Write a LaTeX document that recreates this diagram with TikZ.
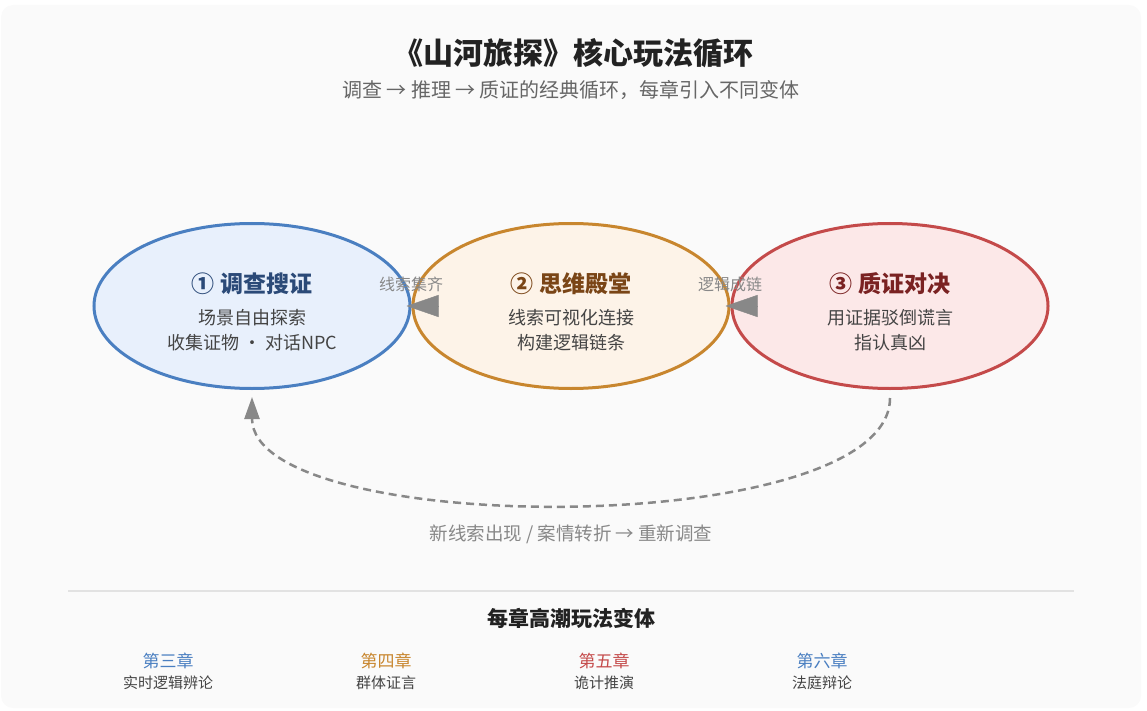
\documentclass[tikz,border=0pt]{standalone}
\usepackage{fontspec}
\setmainfont{Noto Sans CJK SC}
\usetikzlibrary{shapes.geometric,arrows.meta}

\definecolor{pagebg}{HTML}{FAFAFA}
\definecolor{titletext}{HTML}{222222}
\definecolor{subtext}{HTML}{666666}
\definecolor{bodytext}{HTML}{444444}
\definecolor{hint}{HTML}{888888}
\definecolor{rule}{HTML}{E2E2E2}
\definecolor{invfill}{HTML}{E8F0FC}
\definecolor{invline}{HTML}{4A7FC1}
\definecolor{invtext}{HTML}{2B4A78}
\definecolor{mindfill}{HTML}{FDF3E8}
\definecolor{mindline}{HTML}{C8862E}
\definecolor{mindtext}{HTML}{7A4516}
\definecolor{trialfill}{HTML}{FCE8E8}
\definecolor{trialline}{HTML}{C44A4A}
\definecolor{trialtext}{HTML}{7A2222}

\begin{document}
\begin{tikzpicture}[
  x=1pt, y=-1pt,
  stage/.style={ellipse,line width=3pt,minimum width=316pt,minimum height=165pt,inner sep=0pt},
  head/.style={font=\fontsize{23}{27}\selectfont\bfseries},
  body/.style={font=\fontsize{18}{25}\selectfont,text=bodytext,align=center},
  hop/.style={font=\fontsize{16}{19}\selectfont,text=hint},
  flow/.style={draw=hint,line width=0.4pt,-{Triangle[length=32pt,width=22pt]}},
  back/.style={draw=hint,line width=2.5pt,dash pattern=on 8pt off 5pt,-{Triangle[length=22pt,width=15pt]}},
]

% ---- page ----
\useasboundingbox (0,0) rectangle (1147,711);
\fill[pagebg,rounded corners=12pt] (1,5) rectangle (1141,708);

\node[font=\fontsize{30}{34}\selectfont\bfseries,text=titletext] (title) at (573,53) {《山河旅探》核心玩法循环};
\node[font=\fontsize{20}{24}\selectfont,text=subtext] (subtitle) at (571,90) {调查 → 推理 → 质证的经典循环，每章引入不同变体};

% --- one stage of the loop ---
% #1 name, #2 x, #3 fill, #4 line, #5 head colour, #6 head, #7 body
\newcommand{\PlaceStage}[7]{%
  \node[stage,fill=#3,draw=#4] (#1) at (#2,306) {};%
  \node[head,text=#5] (#1h) at (#2,284) {#6};%
  \node[body] (#1b) at (#2,330) {#7};%
}

% ========================= stages =========================
\PlaceStage{inv}{252}{invfill}{invline}{invtext}{① 调查搜证}{场景自由探索\\收集证物 · 对话NPC}
\PlaceStage{mind}{571}{mindfill}{mindline}{mindtext}{② 思维殿堂}{线索可视化连接\\构建逻辑链条}
\PlaceStage{trial}{890}{trialfill}{trialline}{trialtext}{③ 质证对决}{用证据驳倒谎言\\指认真凶}

% hand-overs
\draw[flow] ([xshift=27pt]mind.west) -- ([xshift=-5pt]inv.east);
\draw[flow] ([xshift=27pt]trial.west) -- ([xshift=-5pt]mind.east);
\node[hop] (hop1) at (411,284) {线索集齐};
\node[hop] (hop2) at (730,284) {逻辑成链};

% back to the start
\draw[back] ([yshift=-8pt]trial.south) .. controls +(0,142) and +(0,142) .. ([yshift=-7pt]inv.south);
\node[font=\fontsize{18.5}{22}\selectfont,text=hint] (loopnote) at (571,534) {新线索出现 / 案情转折 → 重新调查};

% ========================= variants =========================
\draw[rule,line width=1.5pt] (68,591) -- (1074,591);
\node[font=\fontsize{21}{25}\selectfont\bfseries,text=titletext] (varhead) at (571,618) {每章高潮玩法变体};

\foreach \x/\c/\ch/\mode [count=\i] in {168/invline/第三章/实时逻辑辨论, 386/mindline/第四章/群体证言, 604/trialline/第五章/诡计推演, 822/invline/第六章/法庭辩论}{
  \node[font=\fontsize{17}{20}\selectfont,text=\c] (ch\i) at (\x,661) {\ch};
  \node[font=\fontsize{15}{18}\selectfont,text=bodytext] (mode\i) at (\x,683) {\mode};
}

\end{tikzpicture}
\end{document}
